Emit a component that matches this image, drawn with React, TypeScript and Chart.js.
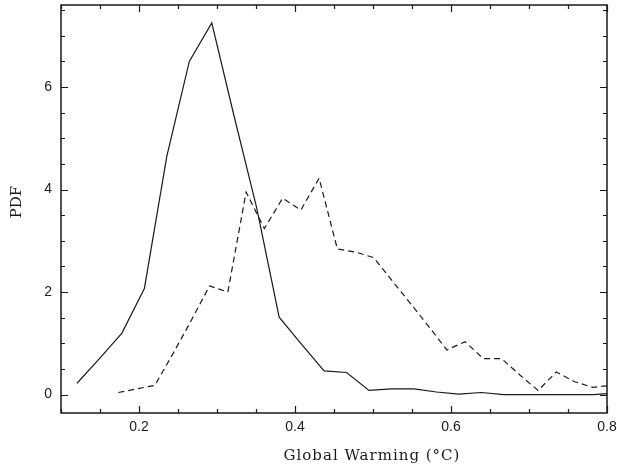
import React, { useEffect, useRef } from "react";
import { Chart, registerables } from "chart.js";

Chart.register(...registerables);

// Solid curve
const solidX = [0.1205, 0.1493, 0.1781, 0.2069, 0.2357, 0.2645, 0.2933, 0.3221, 0.3509, 0.3797, 0.4085, 0.4373, 0.4661, 0.4949, 0.5237, 0.5525, 0.5813, 0.6101, 0.6389, 0.6677, 0.6965, 0.7253, 0.7541, 0.7829, 0.8117];
const solidY = [0.22, 0.7, 1.2, 2.07, 4.65, 6.5, 7.25, 5.42, 3.64, 1.51, 0.98, 0.46, 0.43, 0.08, 0.11, 0.11, 0.05, 0.01, 0.04, 0.0, 0.0, 0.0, 0.0, 0.0, 0.03];

// Dashed curve
const dashedX = [0.1735, 0.1969, 0.2203, 0.2437, 0.2671, 0.2905, 0.3139, 0.3373, 0.3607, 0.3841, 0.4075, 0.4309, 0.4543, 0.4777, 0.5011, 0.5245, 0.5479, 0.5713, 0.5947, 0.6181, 0.6415, 0.6649, 0.6883, 0.7117, 0.7351, 0.7585, 0.7819, 0.8053];
const dashedY = [0.04, 0.11, 0.18, 0.8, 1.45, 2.12, 2.0, 3.95, 3.24, 3.83, 3.6, 4.22, 2.84, 2.78, 2.67, 2.22, 1.78, 1.33, 0.87, 1.03, 0.7, 0.7, 0.38, 0.08, 0.44, 0.25, 0.14, 0.18];

// Axis ticks
const xMajorTicks = [0.2, 0.4, 0.6, 0.8];
const xMinorTicks = [0.1, 0.15, 0.2, 0.25, 0.3, 0.35, 0.4, 0.45, 0.5, 0.55, 0.6, 0.65, 0.7, 0.75, 0.8];
const yMajorTicks = [0, 2, 4, 6];
const yMinorTicks = [0, 0.5, 1, 1.5, 2, 2.5, 3, 3.5, 4, 4.5, 5, 5.5, 6, 6.5, 7, 7.5];

const xTitle = "Global Warming (°C)";
const yTitle = "PDF";

const INK = "#1a1a1a";

const framePlugin = {
  id: "frame",
  afterDatasetsDraw(chart: any) {
    const { ctx, chartArea, scales } = chart;
    const { left, right, top, bottom } = chartArea;
    const xs = scales.x;
    const ys = scales.y;
    ctx.save();
    ctx.strokeStyle = INK;
    ctx.lineWidth = 1.5;
    ctx.strokeRect(left, top, right - left, bottom - top);
    ctx.lineWidth = 1.2;
    ctx.beginPath();
    xMinorTicks.forEach((v) => {
      const px = Math.round(xs.getPixelForValue(v)) + 0.5;
      const len = xMajorTicks.some((m) => Math.abs(m - v) < 1e-9) ? 7 : 4;
      ctx.moveTo(px, bottom);
      ctx.lineTo(px, bottom - len);
      ctx.moveTo(px, top);
      ctx.lineTo(px, top + len);
    });
    yMinorTicks.forEach((v) => {
      const py = Math.round(ys.getPixelForValue(v)) + 0.5;
      const len = yMajorTicks.some((m) => Math.abs(m - v) < 1e-9) ? 7 : 4;
      ctx.moveTo(left, py);
      ctx.lineTo(left + len, py);
      ctx.moveTo(right, py);
      ctx.lineTo(right - len, py);
    });
    ctx.stroke();

    ctx.fillStyle = INK;
    ctx.font = '15px "DejaVu Serif"';
    ctx.textAlign = "center";
    ctx.textBaseline = "middle";
    (ctx as any).letterSpacing = "1px";
    ctx.fillText(xTitle, (left + right) / 2 + 38, 456);
    (ctx as any).letterSpacing = "0px";
    ctx.translate(17, (top + bottom) / 2 - 7);
    ctx.rotate(-Math.PI / 2);
    ctx.fillText(yTitle, 0, 0);
    ctx.restore();
  },
};

export default function App() {
  const ref = useRef<HTMLCanvasElement | null>(null);

  useEffect(() => {
    if (!ref.current) return;
    const chart = new Chart(ref.current, {
      type: "line",
      data: {
        datasets: [
          {
            data: solidX.map((x, i) => ({ x, y: solidY[i] })),
            borderColor: INK,
            borderWidth: 1.2,
            pointRadius: 0,
            tension: 0,
            fill: false,
          },
          {
            data: dashedX.map((x, i) => ({ x, y: dashedY[i] })),
            borderColor: INK,
            borderWidth: 1.2,
            borderDash: [6, 4],
            pointRadius: 0,
            tension: 0,
            fill: false,
          },
        ],
      },
      options: {
        responsive: false,
        animation: false,
        layout: { padding: { left: 0, right: 10, top: 5, bottom: 0 } },
        plugins: { legend: { display: false }, tooltip: { enabled: false } },
        scales: {
          x: {
            type: "linear",
            min: 0.1,
            max: 0.8,
            grid: { display: false, drawTicks: false },
            border: { display: false },
            afterBuildTicks: (s: any) => {
              s.ticks = xMajorTicks.map((v) => ({ value: v }));
            },
            afterFit: (s: any) => {
              s.height = 55;
              s.paddingRight = 0;
              s.paddingLeft = 0;
            },
            ticks: {
              padding: 6,
              color: INK,
              maxRotation: 0,
              autoSkip: false,
              font: { family: '"Liberation Sans"', size: 14 },
              callback: (v: any) => Number(v).toFixed(1),
            },
          },
          y: {
            type: "linear",
            min: -0.36,
            max: 7.6,
            grid: { display: false, drawTicks: false },
            border: { display: false },
            afterBuildTicks: (s: any) => {
              s.ticks = yMajorTicks.map((v) => ({ value: v }));
            },
            afterFit: (s: any) => {
              s.width = 61;
              s.paddingTop = 0;
              s.paddingBottom = 0;
            },
            ticks: {
              padding: 9,
              color: INK,
              autoSkip: false,
              font: { family: '"Liberation Sans"', size: 14 },
              callback: (v: any) => String(v),
            },
          },
        },
      },
      plugins: [framePlugin],
    });
    return () => chart.destroy();
  }, []);

  return (
    <div style={{ position: "fixed", left: 0, top: 0, width: 617, height: 468, background: "#fff" }}>
      <canvas ref={ref} width={617} height={468} style={{ display: "block", width: 617, height: 468 }} />
    </div>
  );
}
